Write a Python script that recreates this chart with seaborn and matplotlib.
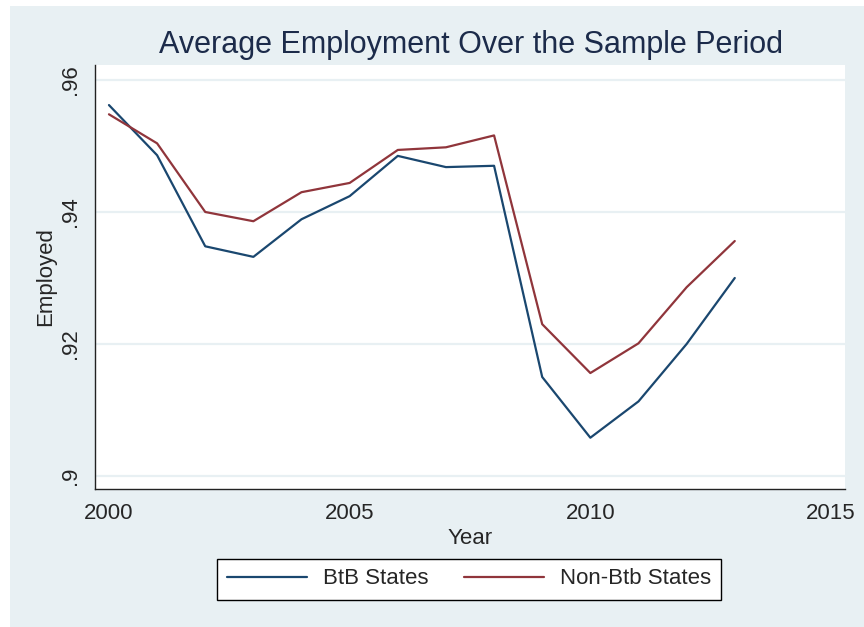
import numpy as np
import pandas as pd
import matplotlib
matplotlib.use("Agg")
import matplotlib.pyplot as plt
from matplotlib.patches import Rectangle
import seaborn as sns

# values
years = list(range(2000, 2014))
btb = [0.9562, 0.9486, 0.9348, 0.9332, 0.9389, 0.9424, 0.9485, 0.9468,
       0.9470, 0.9150, 0.9058, 0.9113, 0.9200, 0.9300]
non_btb = [0.9548, 0.9504, 0.9400, 0.9386, 0.9430, 0.9444, 0.9494, 0.9498,
           0.9516, 0.9230, 0.9156, 0.9201, 0.9286, 0.9356]
series_names = ["BtB States", "Non-Btb States"]
x_ticks = [2000, 2005, 2010, 2015]
y_ticks = [0.90, 0.92, 0.94, 0.96]
y_tick_labels = [".9", ".92", ".94", ".96"]

df = pd.DataFrame({
    "Year": years * 2,
    "Employed": btb + non_btb,
    "group": [series_names[0]] * len(years) + [series_names[1]] * len(years),
})

sns.set_style("white")
plt.rcParams['font.family'] = ['Liberation Sans', 'DejaVu Sans']

bg = '#e8f0f3'
navy = '#1a476f'
maroon = '#90353b'

fig = plt.figure(figsize=(8.64, 6.27), dpi=100, facecolor='white')
fig.patches.append(Rectangle((10 / 864, 0), 1, 1 - 6 / 627, transform=fig.transFigure,
                             facecolor=bg, edgecolor='none', zorder=-10))
ax = fig.add_axes([95 / 864, 1 - 489 / 627, 750 / 864, 424 / 627])
ax.set_facecolor('white')

sns.lineplot(data=df, x="Year", y="Employed", hue="group",
             palette=[navy, maroon], linewidth=1.6, ax=ax, legend=True)

ax.set_xlim(1999.71, 2015.29)
ax.set_ylim(0.89803, 0.96227)
ax.set_xticks(x_ticks)
ax.set_xticklabels([str(t) for t in x_ticks], fontsize=16)
ax.set_yticks(y_ticks)
ax.set_yticklabels(y_tick_labels, fontsize=16, rotation=90, va='center')
for t in y_ticks:
    ax.axhline(t, color=bg, linewidth=1.6, zorder=0)

ax.tick_params(axis='both', direction='out', length=6, width=1, color='#333333', pad=4)
for s in ['top', 'right']:
    ax.spines[s].set_visible(False)
for s in ['left', 'bottom']:
    ax.spines[s].set_color('#222222')
    ax.spines[s].set_linewidth(1.0)

ax.set_xlabel("Year", fontsize=16, labelpad=3)
ax.set_ylabel("Employed", fontsize=16, labelpad=3)
fig.text(471 / 864, 1 - 45 / 627, "Average Employment Over the Sample Period",
         ha='center', va='center', fontsize=22, color='#1c2b4a')

handles, labels = ax.get_legend_handles_labels()
ax.legend(handles, labels, loc='center', bbox_to_anchor=(469 / 864, 1 - 579 / 627),
          bbox_transform=fig.transFigure, ncol=2, fontsize=16, frameon=True,
          fancybox=False, edgecolor='black', framealpha=1, handlelength=3.6,
          handletextpad=0.7, columnspacing=1.6, borderpad=0.45, title=None)
ax.get_legend().get_frame().set_linewidth(1.0)

fig.savefig("out.png", dpi=100, facecolor='white')
